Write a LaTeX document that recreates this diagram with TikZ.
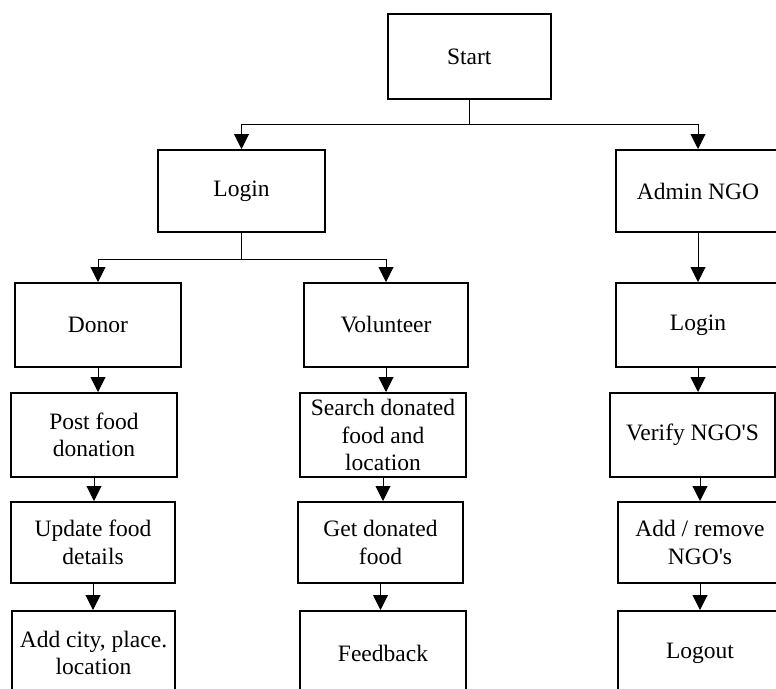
\documentclass[tikz,border=0pt]{standalone}
\usepackage{fontspec}
\setmainfont{Liberation Serif}
\usetikzlibrary{arrows.meta}
\begin{document}
\begin{tikzpicture}[x=1pt,y=-1pt,
  box/.style={draw,line width=2pt,inner sep=0pt,align=center,
    font=\fontsize{23.5}{27.5}\selectfont},
  arr/.style={line width=1pt,-{Triangle[width=15pt,length=15pt]}},
  ln/.style={line width=1pt}]
\useasboundingbox (0,0) rectangle (776,688);
% boxes
\node[box,minimum width=163pt,minimum height=85pt] (start) at (469.3,56.5) {Start};
\node[box,minimum width=167pt,minimum height=82pt] (login) at (241.5,191) {Login};
\node[box,minimum width=165pt,minimum height=82pt] (admin) at (698,191) {Admin NGO};
\node[box,minimum width=166pt,minimum height=84pt] (donor) at (98,325) {Donor};
\node[box,minimum width=166pt,minimum height=84pt] (post) at (94,435) {Post food\\donation};
\node[box,minimum width=164pt,minimum height=81pt] (update) at (93,542.5) {Update food\\details};
\node[box,minimum width=163pt,minimum height=84pt] (addcity) at (93.5,653) {Add city, place.\\location};
\node[box,minimum width=164pt,minimum height=84pt] (volunteer) at (386,325) {Volunteer};
\node[box,minimum width=166pt,minimum height=84pt] (search) at (383,435) {Search donated\\food and\\location};
\node[box,minimum width=165pt,minimum height=81pt] (getfood) at (380.5,542.5) {Get donated\\food};
\node[box,minimum width=166pt,minimum height=84pt] (feedback) at (383,653) {Feedback};
\node[box,minimum width=164pt,minimum height=84pt] (login2) at (698,325) {Login};
\node[box,minimum width=165pt,minimum height=84pt] (verify) at (692.5,435) {Verify NGO\textquotesingle S};
\node[box,minimum width=164pt,minimum height=81pt] (addremove) at (700,542.5) {Add / remove\\NGO\textquotesingle s};
\node[box,minimum width=164pt,minimum height=84pt] (logout) at (700,653) {Logout};
% junctions
\coordinate (j1) at (469.3,124);
\coordinate (j2) at (241.5,259);
\draw[ln] (start.south) -- (j1);
\draw[arr] (j1) -| (login.north);
\draw[arr] (j1) -| (admin.north);
\draw[ln] (login.south) -- (j2);
\draw[arr] (j2) -| (donor.north);
\draw[arr] (j2) -| (volunteer.north);
\draw[arr] (admin.south) -- (login2.north);
% donor column
\draw[arr] (donor.south) -- (donor.south |- post.north);
\draw[arr] (post.south) -- (post.south |- update.north);
\draw[arr] (update.south) -- (update.south |- addcity.north);
% volunteer column
\draw[arr] (volunteer.south) -- (volunteer.south |- search.north);
\draw[arr] (search.south) -- (search.south |- getfood.north);
\draw[arr] (getfood.south) -- (getfood.south |- feedback.north);
% admin column
\draw[arr] (login2.south) -- (login2.south |- verify.north);
\draw[arr] (addremove.north |- verify.south) -- (addremove.north);
\draw[arr] (addremove.south) -- (addremove.south |- logout.north);
\end{tikzpicture}
\end{document}
